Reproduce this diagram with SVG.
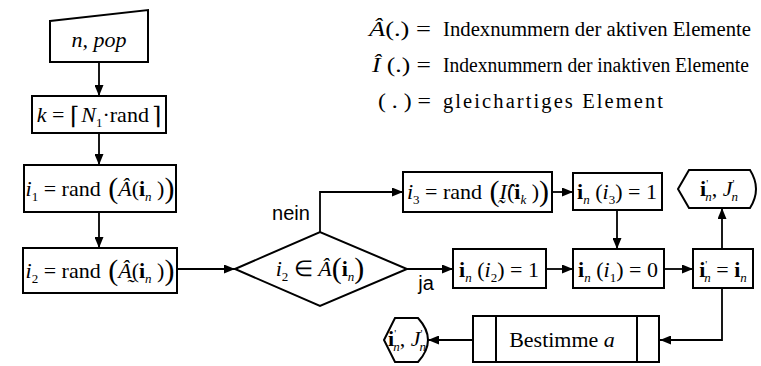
<svg xmlns="http://www.w3.org/2000/svg" width="761" height="366" viewBox="0 0 761 366">
<style>
.node{fill:#fff;stroke:#000;stroke-width:2}
.conn{fill:none;stroke:#000;stroke-width:1.8}
.m{font-family:"Liberation Serif","Times New Roman",serif;font-size:22px;fill:#000}
.lg{font-family:"Liberation Serif","Times New Roman",serif;font-size:20.5px;fill:#000}
.s{font-family:"Liberation Sans",Arial,sans-serif;font-size:20px;fill:#000}
.it{font-style:italic}
.b{font-weight:bold}
.sub{font-size:13px}
.big{font-size:30px;font-weight:200}
.ceil{font-family:"DejaVu Serif",serif;font-size:24px}
</style>
<defs>
<marker id="ah" markerWidth="11" markerHeight="9" refX="11" refY="4.5" orient="auto" markerUnits="userSpaceOnUse">
<path d="M0,0 L11,4.5 L0,9 z" fill="#000"/>
</marker>
</defs>
<rect width="761" height="366" fill="#fff"/>

<g id="legend">
<text class="lg" x="369" y="36" textLength="62" lengthAdjust="spacingAndGlyphs"><tspan class="it">Â</tspan>(.) =</text>
<text class="lg" x="443" y="36" textLength="308" lengthAdjust="spacingAndGlyphs">Indexnummern der aktiven Elemente</text>
<text class="lg" x="372" y="72" textLength="59" lengthAdjust="spacingAndGlyphs"><tspan class="it">Î</tspan> (.) =</text>
<text class="lg" x="443" y="72" font-size="19.5" textLength="306" lengthAdjust="spacingAndGlyphs">Indexnummern der inaktiven Elemente</text>
<text class="lg" x="378" y="108" textLength="53" lengthAdjust="spacingAndGlyphs">( . ) =</text>
<text class="lg" x="443" y="108" textLength="220" lengthAdjust="spacing">gleichartiges Element</text>
</g>

<g id="connectors">
<line class="conn" x1="99" y1="62" x2="99" y2="96" marker-end="url(#ah)"/>
<line class="conn" x1="99" y1="133" x2="99" y2="165" marker-end="url(#ah)"/>
<line class="conn" x1="99" y1="212" x2="99" y2="248" marker-end="url(#ah)"/>
<line class="conn" x1="177" y1="269" x2="235" y2="269" marker-end="url(#ah)"/>
<polyline class="conn" points="320,232 320,192 403,192" marker-end="url(#ah)"/>
<line class="conn" x1="407" y1="269" x2="453" y2="269" marker-end="url(#ah)"/>
<line class="conn" x1="552" y1="192" x2="573" y2="192" marker-end="url(#ah)"/>
<line class="conn" x1="546" y1="269" x2="573" y2="269" marker-end="url(#ah)"/>
<line class="conn" x1="617" y1="210" x2="617" y2="249" marker-end="url(#ah)"/>
<line class="conn" x1="664" y1="269" x2="693" y2="269" marker-end="url(#ah)"/>
<line class="conn" x1="722" y1="249" x2="722" y2="208" marker-end="url(#ah)"/>
<polyline class="conn" points="722,288 722,340 660,340" marker-end="url(#ah)"/>
<line class="conn" x1="473" y1="340" x2="428" y2="340" marker-end="url(#ah)"/>
<text class="s" x="291" y="220" text-anchor="middle">nein</text>
<text class="s" x="426" y="290" text-anchor="middle">ja</text>
</g>

<g id="input">
<polygon class="node" points="50,21 148,10 148,62 50,62"/>
<text class="m it" x="99" y="47" text-anchor="middle">n, pop</text>
</g>

<g id="k">
<rect class="node" x="32" y="96" width="134" height="37"/>
<text class="m" x="99" y="122" text-anchor="middle"><tspan class="it">k</tspan> = <tspan class="ceil" dy="2">⌈</tspan><tspan class="it" dy="-2" dx="2">N</tspan><tspan class="sub" dy="5">1</tspan><tspan dy="-5">·rand</tspan><tspan class="ceil" dy="2" dx="3">⌉</tspan></text>
</g>

<g id="i1">
<rect class="node" x="24" y="165" width="152" height="47"/>
<text class="m" x="100" y="196" text-anchor="middle"><tspan class="it">i</tspan><tspan class="sub" dy="5">1</tspan><tspan dy="-5"> = rand</tspan><tspan class="big" dy="2"> (</tspan><tspan class="it" dy="-2">Â</tspan>(<tspan class="b">i</tspan><tspan class="sub it" dy="5">n</tspan><tspan dy="-5"> )</tspan><tspan class="big" dy="2">)</tspan></text>
</g>

<g id="i2">
<rect class="node" x="23" y="248" width="154" height="45"/>
<text class="m" x="100" y="278" text-anchor="middle"><tspan class="it">i</tspan><tspan class="sub" dy="5">2</tspan><tspan dy="-5"> = rand</tspan><tspan class="big" dy="2"> (</tspan><tspan class="it" dy="-2">Â̰</tspan>(<tspan class="b">i</tspan><tspan class="sub it" dy="5">n</tspan><tspan dy="-5"> )</tspan><tspan class="big" dy="2">)</tspan></text>
</g>

<g id="decision">
<polygon class="node" points="235,269 320,232 407,269 320,306"/>
<text class="m" x="320" y="276" text-anchor="middle"><tspan class="it">i</tspan><tspan class="sub" dy="5">2</tspan><tspan dy="-5"> ∈ </tspan><tspan class="it">Â</tspan><tspan class="big" dy="2">(</tspan><tspan class="b" dy="-2">i</tspan><tspan class="sub it" dy="5">n</tspan><tspan class="big" dy="-3">)</tspan></text>
</g>

<g id="i3">
<rect class="node" x="403" y="172" width="149" height="40"/>
<text class="m" x="478" y="199" text-anchor="middle"><tspan class="it">i</tspan><tspan class="sub" dy="5">3</tspan><tspan dy="-5"> = rand</tspan><tspan class="big" dy="2"> (</tspan><tspan class="it" dy="-2">Ḭ̂</tspan>(<tspan class="b">i</tspan><tspan class="sub it" dy="5">k</tspan><tspan dy="-5"> )</tspan><tspan class="big" dy="2">)</tspan></text>
</g>

<g id="in_i3">
<rect class="node" x="573" y="173" width="89" height="37"/>
<text class="m" x="617" y="199" text-anchor="middle"><tspan class="b">i</tspan><tspan class="sub it" dy="5">n</tspan><tspan dy="-5"> (</tspan><tspan class="it">i</tspan><tspan class="sub" dy="5">3</tspan><tspan dy="-5">) = 1</tspan></text>
</g>

<g id="in_i2">
<rect class="node" x="453" y="249" width="93" height="39"/>
<text class="m" x="499" y="277" text-anchor="middle"><tspan class="b">i</tspan><tspan class="sub it" dy="5">n</tspan><tspan dy="-5"> (</tspan><tspan class="it">i</tspan><tspan class="sub" dy="5">2</tspan><tspan dy="-5">) = 1</tspan></text>
</g>

<g id="in_i1">
<rect class="node" x="573" y="249" width="91" height="39"/>
<text class="m" x="618" y="277" text-anchor="middle"><tspan class="b">i</tspan><tspan class="sub it" dy="5">n</tspan><tspan dy="-5"> (</tspan><tspan class="it">i</tspan><tspan class="sub" dy="5">1</tspan><tspan dy="-5">) = 0</tspan></text>
</g>

<g id="assign">
<rect class="node" x="693" y="249" width="60" height="39"/>
<text class="m" x="723" y="277" text-anchor="middle"><tspan class="b">i</tspan><tspan font-size="11" dy="-9">'</tspan><tspan class="sub it" dx="-3" dy="14">n</tspan><tspan dy="-5"> = </tspan><tspan class="b">i</tspan><tspan class="sub it" dy="5">n</tspan></text>
</g>

<g id="output1">
<path class="node" d="M678,189 L689,170 L750,170 Q762,189 750,208 L689,208 Z"/>
<text class="m" x="719" y="196" text-anchor="middle"><tspan class="b">i</tspan><tspan font-size="11" dy="-9">'</tspan><tspan class="sub it" dx="-3" dy="14">n</tspan><tspan dy="-5">, </tspan><tspan class="it">J</tspan><tspan font-size="11" dy="-9">'</tspan><tspan class="sub it" dx="-3" dy="14">n</tspan></text>
</g>

<g id="bestimme">
<rect class="node" x="473" y="316" width="186" height="46"/>
<line class="node" x1="496" y1="316" x2="496" y2="362"/>
<line class="node" x1="637" y1="316" x2="637" y2="362"/>
<text class="m" x="562" y="347" text-anchor="middle">Bestimme <tspan class="it">a</tspan></text>
</g>

<g id="output2">
<path class="node" d="M384,340 L395,318 L418,318 Q438,340 418,362 L395,362 Z"/>
<text class="m" x="407" y="346" text-anchor="middle" font-size="20"><tspan class="b">i</tspan><tspan font-size="11" dy="-9">'</tspan><tspan class="sub it" dx="-3" dy="14">n</tspan><tspan dy="-5">, </tspan><tspan class="it">J</tspan><tspan font-size="11" dy="-9">'</tspan><tspan class="sub it" dx="-3" dy="14">n</tspan></text>
</g>
</svg>
